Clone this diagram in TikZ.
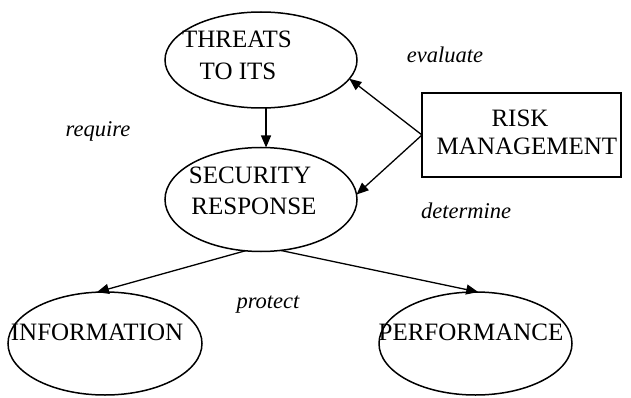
\documentclass[tikz,border=0pt]{standalone}
\usepackage{fontspec}
\setmainfont{Liberation Serif}
\usetikzlibrary{shapes.geometric,arrows.meta}
\tikzset{
  oval/.style={ellipse,draw,line width=1.5pt,inner sep=0pt,outer sep=0pt},
  capt/.style={anchor=base,inner sep=0pt,font=\fontsize{25}{29}\selectfont},
  verb/.style={anchor=base,inner sep=0pt,font=\fontsize{22.5}{26}\selectfont\itshape},
  arr/.style={line width=1.3pt,-{Triangle[length=12pt,width=10pt]}},
  boxed/.style={draw,line width=1.3pt,rectangle,inner sep=0pt,outer sep=0pt}
}
\begin{document}
\begin{tikzpicture}[x=1pt,y=-1pt]
\useasboundingbox (0,0) rectangle (631,398);
% shapes
\node[oval,minimum width=192pt,minimum height=96pt] (threats) at (261,60) {};
\node[oval,minimum width=192pt,minimum height=104pt] (security) at (261,199.5) {};
\node[boxed,minimum width=199pt,minimum height=84pt] (risk) at (521.5,135) {};
\node[oval,minimum width=194pt,minimum height=103pt] (info) at (105,343.5) {};
\node[oval,minimum width=193pt,minimum height=103pt] (perf) at (475.5,343.5) {};
% texts
\node[capt] (t1) at (237,48) {THREATS};
\node[capt] (t2) at (238,80) {TO ITS};
\node[capt] (s1) at (250,183) {SECURITY};
\node[capt] (s2) at (254,214) {RESPONSE};
\node[capt] (r1) at (520,127) {RISK};
\node[capt] (r2) at (527,155) {MANAGEMENT};
\node[capt] (i1) at (97,340) {INFORMATION};
\node[capt] (p1) at (471,340) {PERFORMANCE};
\node[verb] (l1) at (98,137) {require};
\node[verb] (l2) at (445,63) {evaluate};
\node[verb] (l3) at (466,218) {determine};
\node[verb] (l4) at (268,308) {protect};
% connectors
\draw[arr] (threats.-84) -- (threats.-84 |- security.north);
\draw[arr] (risk.west) -- (threats.-12);
\draw[arr] (risk.west) -- (security.3);
\draw[arr] (security.-107) -- (info.99);
\draw[arr] (security.-69) -- (perf.87);
\end{tikzpicture}
\end{document}
